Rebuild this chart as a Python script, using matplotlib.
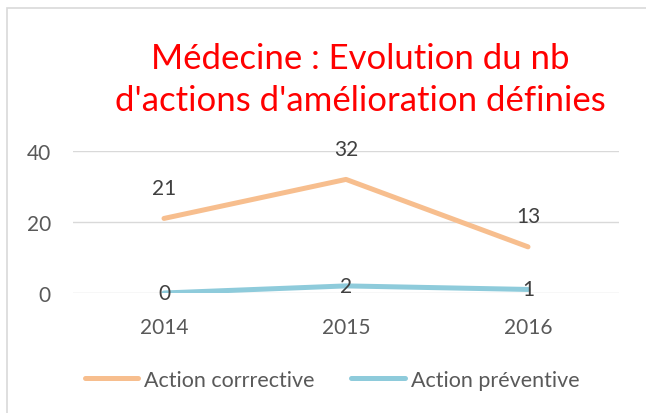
import matplotlib
matplotlib.use("Agg")
import matplotlib.pyplot as plt
from matplotlib.patches import Rectangle

years = ["2014", "2015", "2016"]
corrective = [21, 32, 13]
preventive = [0, 2, 1]
series_names = ["Action corrrective", "Action préventive"]
title = "Médecine : Evolution du nb\nd'actions d'amélioration définies"

plt.rcParams['font.family'] = ['Lato', 'DejaVu Sans']

W, H = 646, 414
fig = plt.figure(figsize=(W / 100, H / 100), dpi=100)
fig.patch.set_facecolor("white")

# outer border of chart area
fig.add_artist(Rectangle((7 / W, -0.1), 1.2, (H - 9) / H + 0.1, transform=fig.transFigure,
                         fill=False, edgecolor="#d9d9d9", linewidth=1.2))

ax = fig.add_axes([73 / W, 1 - 294 / H, (619 - 73) / W, (294 - 152) / H])
x = list(range(len(years)))
orange = "#F7BE8E"
blue = "#8ECBDB"
ax.plot(x, corrective, color=orange, linewidth=3.6, solid_capstyle="round", label=series_names[0], zorder=3)
ax.plot(x, preventive, color=blue, linewidth=3.6, solid_capstyle="round", label=series_names[1], zorder=3)

ax.set_xlim(-0.5, 2.5)
ax.set_ylim(0, 40)
ax.set_yticks([0, 20, 40])
ax.set_xticks(x)
ax.set_xticklabels(years)
ax.grid(axis="y", color="#d9d9d9", linewidth=1)
ax.set_axisbelow(True)
for s in ax.spines.values():
    s.set_visible(False)
ax.tick_params(length=0, labelsize=15, colors="#595959")
ax.tick_params(axis="y", pad=16)
ax.tick_params(axis="x", pad=17)

for xi, v in zip(x, corrective):
    ax.annotate(str(v), (xi, v), xytext=(0, 22), textcoords="offset points",
                ha="center", va="center", fontsize=15, color="#404040")
for xi, v in zip(x, preventive):
    ax.annotate(str(v), (xi, v), xytext=(0, 0), textcoords="offset points",
                ha="center", va="center", fontsize=15, color="#404040")

fig.text(360 / W, 1 - 80 / H, title, ha="center", va="center", fontsize=25,
         color="#FF0000", linespacing=1.4)

leg = fig.legend(loc="center", bbox_to_anchor=(332 / W, 1 - 381 / H), ncol=2, frameon=False,
                 fontsize=15.5, handlelength=2.5, columnspacing=1.67, handletextpad=0.28)
for t in leg.get_texts():
    t.set_color("#595959")

fig.savefig("out.png", dpi=100, facecolor="white")
